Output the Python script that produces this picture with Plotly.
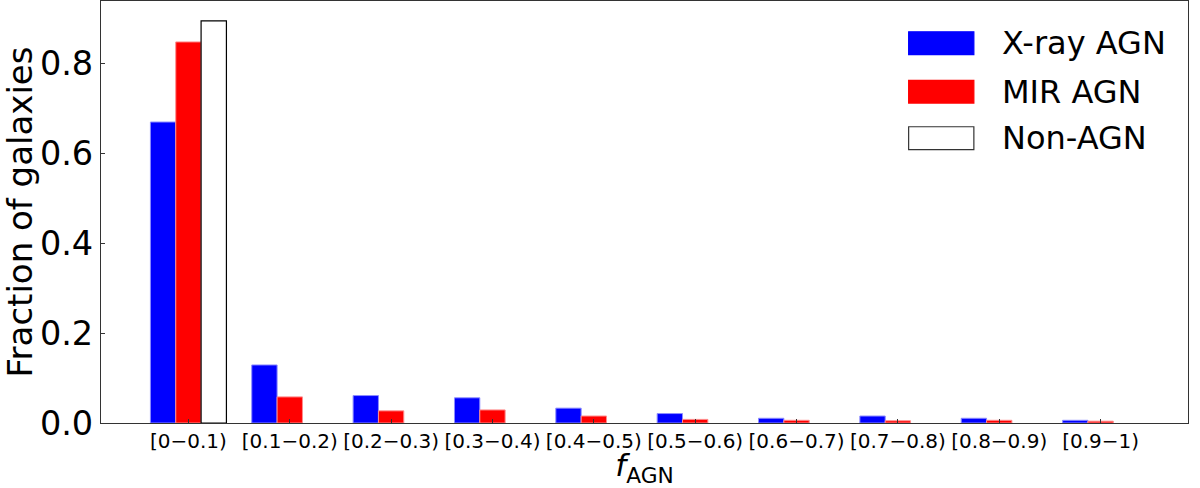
import plotly.graph_objects as go

# Data
bins = ["[0\u22120.1)", "[0.1\u22120.2)", "[0.2\u22120.3)", "[0.3\u22120.4)", "[0.4\u22120.5)",
        "[0.5\u22120.6)", "[0.6\u22120.7)", "[0.7\u22120.8)", "[0.8\u22120.9)", "[0.9\u22121)"]
xray_agn = [0.669, 0.129, 0.061, 0.056, 0.033, 0.021, 0.0105, 0.0155, 0.0105, 0.006]
mir_agn = [0.847, 0.058, 0.027, 0.029, 0.0155, 0.008, 0.006, 0.005, 0.006, 0.004]
non_agn = [0.894, None, None, None, None, None, None, None, None, None]

series = [
    ("X-ray AGN", xray_agn, "#0000ff", "rgba(140,140,255,1)", 1),
    ("MIR AGN", mir_agn, "#ff0000", "rgba(255,140,140,1)", 1),
    ("Non-AGN", non_agn, "#ffffff", "#000000", 1.2),
]

font = "DejaVu Sans"
fig = go.Figure()

for name, vals, fill, edge, lw in series:
    fig.add_trace(go.Bar(
        x=bins, y=vals, name=name,
        marker=dict(color=fill, line=dict(color=edge, width=lw)),
        showlegend=False,
    ))

# hand-made legend with wide swatches (like matplotlib)
ys = [0.9, 0.785, 0.675]
for (name, vals, fill, edge, lw), yy in zip(series, ys):
    fig.add_shape(type="rect", xref="paper", yref="paper",
                  x0=0.743, x1=0.803, y0=yy - 0.027, y1=yy + 0.027,
                  fillcolor=fill,
                  line=dict(color="#333333" if name == "Non-AGN" else fill, width=1.2))
    fig.add_annotation(text=name, xref="paper", yref="paper", x=0.827, y=yy,
                       xanchor="left", yanchor="middle", showarrow=False,
                       font=dict(family=font, size=32, color="black"))

fig.update_layout(
    width=1200, height=488,
    margin=dict(l=101, r=12, t=1, b=65),
    plot_bgcolor="white", paper_bgcolor="white",
    barmode="group", bargap=0.25, bargroupgap=0,
    font=dict(family=font, color="black"),
    xaxis=dict(
        range=[-0.8625, 9.8625],
        showline=True, linecolor="#333333", linewidth=1.2, mirror=True,
        ticks="inside", ticklen=4, tickcolor="#333333",
        tickfont=dict(size=20, family=font),
        title=dict(text="<i>f</i><sub>AGN</sub>", font=dict(size=31, family=font), standoff=3),
        showgrid=False, automargin=False,
    ),
    yaxis=dict(
        range=[0, 0.938],
        tickvals=[0, 0.2, 0.4, 0.6, 0.8], tickformat=".1f",
        showline=True, linecolor="#333333", linewidth=1.2, mirror=True,
        ticks="inside", ticklen=4, tickcolor="#333333",
        tickfont=dict(size=33.5, family=font),
        title=dict(text="Fraction of galaxies", font=dict(size=34, family=font), standoff=0),
        showgrid=False, zeroline=False, automargin=False,
    ),
)

fig.write_html("out.html", config={"displayModeBar": False},
               post_script="document.body.style.margin='0';")
